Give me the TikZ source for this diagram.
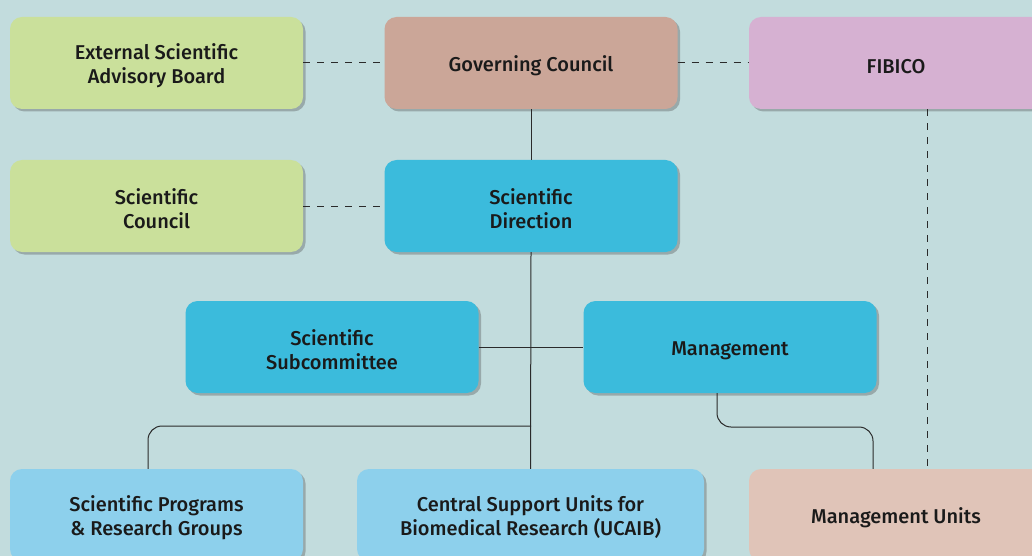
\documentclass[tikz,border=0pt]{standalone}
\usepackage{fontspec}
\setmainfont{Fira Sans}[UprightFont={* Medium}]
\usetikzlibrary{shadows,calc}
\definecolor{bg}{HTML}{C2DCDD}
\definecolor{cgreen}{HTML}{CAE09B}
\definecolor{cbrown}{HTML}{CBA698}
\definecolor{clilac}{HTML}{D6B1D2}
\definecolor{ccyan}{HTML}{3BBBDC}
\definecolor{clblue}{HTML}{8DD0EC}
\definecolor{csalmon}{HTML}{E0C4B8}
\definecolor{txt}{HTML}{1A1A1A}
\definecolor{ln}{HTML}{2A2A2A}
\newcommand{\tstrut}{\rule{0pt}{21pt}}
\tikzset{
  box/.style={rounded corners=12pt, minimum width=293pt, minimum height=92pt,
    inner sep=0pt, align=center, text=txt, font=\fontsize{20}{24}\selectfont,
    drop shadow={shadow xshift=2.5pt, shadow yshift=-2.5pt, opacity=0.35, fill=black!70}},
  conn/.style={draw=ln, line width=1pt},
  dconn/.style={draw=ln, line width=1pt, dash pattern=on 7pt off 7pt},
}
\begin{document}
\begin{tikzpicture}[x=1pt,y=-1pt]
\useasboundingbox (0,0) rectangle (1032,556);
\clip (0,0) rectangle (1032,556);
\fill[bg] (0,0) rectangle (1032,556);

\node[box, fill=cgreen] (esab) at (156.5,63) {\tstrut External Scientific\\Advisory Board};
\node[box, fill=cbrown] (gc) at (531,63) {\tstrut Governing Council};
\node[box, fill=clilac, minimum width=294pt] (fib) at (896,63) {\tstrut FIBICO};
\node[box, fill=cgreen] (sc) at (156.5,206) {\tstrut Scientific\\Council};
\node[box, fill=ccyan] (sd) at (531,206) {\tstrut Scientific\\Direction};
\node[box, fill=ccyan] (ss) at (332,347) {\tstrut Scientific\\Subcommittee};
\node[box, fill=ccyan] (mg) at (730,347) {\tstrut Management};
\node[box, fill=clblue] (sp) at (156.5,515) {\tstrut Scientific Programs\\\& Research Groups};
\node[box, fill=clblue, minimum width=347pt] (csu) at (530.5,515) {\tstrut Central Support Units for\\Biomedical Research (UCAIB)};
\node[box, fill=csalmon, minimum width=294pt] (mu) at (896,515) {\tstrut Management Units};

\draw[dconn] (esab.east) -- (gc.west);
\draw[dconn] (gc.east) -- (fib.west);
\draw[dconn] (sc.east) -- (sd.west);
\draw[conn] (gc.south) -- (sd.north);
\draw[conn] (sd.south) -- (csu.north);
\draw[conn] (ss.east) -- (mg.west);
\coordinate (j1) at (531,426);
\coordinate (j2) at (795,427);
\draw[conn, rounded corners=14pt] (j1) -| ([xshift=-8.5pt]sp.north);
\draw[conn, rounded corners=14pt] ([xshift=-13pt]mg.south) |- (j2) -| ([xshift=-23pt]mu.north);
\draw[dconn] ([xshift=31pt]fib.south) -- ([xshift=31pt]mu.north);
\end{tikzpicture}
\end{document}
